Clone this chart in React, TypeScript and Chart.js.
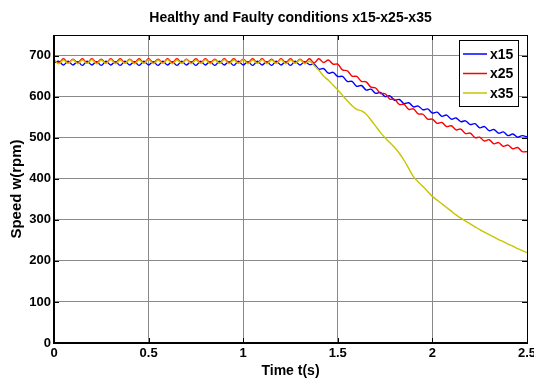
import React, { useEffect, useRef } from "react";
import { Chart, registerables } from "chart.js";

Chart.register(...registerables);

const TITLE = "Healthy and Faulty conditions x15-x25-x35";
const X_TITLE = "Time t(s)";
const Y_TITLE = "Speed w(rpm)";
const SERIES_NAMES = ["x15", "x25", "x35"];
const SERIES_COLORS = ["#0000ff", "#ff0000", "#c8c400"];
const X_TICKS = [0, 0.5, 1, 1.5, 2, 2.5];
const Y_TICKS = [0, 100, 200, 300, 400, 500, 600, 700];

const TIME = [
  0, 0.025, 0.05, 0.075, 0.1, 0.125, 0.15, 0.175, 0.2, 0.225,
  0.25, 0.275, 0.3, 0.325, 0.35, 0.375, 0.4, 0.425, 0.45, 0.475,
  0.5, 0.525, 0.55, 0.575, 0.6, 0.625, 0.65, 0.675, 0.7, 0.725,
  0.75, 0.775, 0.8, 0.825, 0.85, 0.875, 0.9, 0.925, 0.95, 0.975,
  1, 1.025, 1.05, 1.075, 1.1, 1.125, 1.15, 1.175, 1.2, 1.225,
  1.25, 1.275, 1.3, 1.325, 1.35, 1.375, 1.4, 1.425, 1.45, 1.475,
  1.5, 1.525, 1.55, 1.575, 1.6, 1.625, 1.65, 1.675, 1.7, 1.725,
  1.75, 1.775, 1.8, 1.825, 1.85, 1.875, 1.9, 1.925, 1.95, 1.975,
  2, 2.025, 2.05, 2.075, 2.1, 2.125, 2.15, 2.175, 2.2, 2.225,
  2.25, 2.275, 2.3, 2.325, 2.35, 2.375, 2.4, 2.425, 2.45, 2.475,
  2.5,
];

const X15 = [
  682, 686, 677, 686, 677, 685, 676, 686, 677, 685,
  676, 686, 677, 685, 676, 686, 677, 685, 676, 686,
  677, 685, 676, 686, 677, 685, 676, 686, 677, 685,
  676, 686, 677, 685, 676, 686, 677, 685, 676, 686,
  677, 685, 676, 686, 677, 685, 676, 686, 677, 685,
  676, 686, 677, 685, 678, 679, 667, 668, 657, 659,
  649, 649, 637, 637, 625, 627, 616, 618, 608, 610,
  600, 602, 591, 593, 583, 585, 575, 577, 568, 570,
  560, 562, 552, 555, 545, 548, 539, 541, 532, 534,
  524, 527, 517, 520, 511, 514, 505, 509, 501, 505,
  502,
];

const X25 = [
  688, 682, 692, 682, 691, 683, 692, 682, 692, 683,
  691, 682, 692, 683, 692, 682, 691, 683, 692, 682,
  692, 683, 691, 682, 692, 683, 692, 682, 691, 683,
  692, 682, 692, 683, 691, 682, 692, 683, 692, 682,
  691, 683, 692, 682, 692, 683, 691, 682, 692, 683,
  692, 682, 691, 683, 692, 682, 692, 683, 689, 679,
  679, 665, 663, 650, 649, 637, 636, 623, 621, 608,
  607, 594, 593, 581, 581, 569, 570, 558, 557, 545,
  545, 535, 537, 527, 529, 519, 521, 510, 511, 500,
  501, 492, 495, 485, 488, 479, 482, 473, 476, 466,
  466,
];

const X35 = [
  690, 680, 689, 681, 690, 680, 689, 681, 690, 680,
  689, 681, 690, 680, 689, 681, 690, 680, 689, 681,
  690, 680, 689, 681, 690, 680, 689, 681, 690, 680,
  689, 681, 690, 680, 689, 681, 690, 680, 689, 681,
  690, 680, 689, 681, 690, 680, 689, 681, 690, 680,
  689, 681, 690, 680, 686, 676, 664, 650, 640, 628,
  616, 603, 590, 578, 569, 565, 557, 543, 528, 513,
  500, 488, 476, 462, 445, 425, 405, 392, 381, 369,
  357, 348, 339, 330, 321, 312, 304, 297, 290, 283,
  276, 270, 264, 258, 252, 247, 241, 236, 230, 225,
  220,
];

const SERIES = [X15, X25, X35];

const FONT = "'Liberation Sans', Arial, Helvetica, sans-serif";

const framePlugin = {
  id: "matlabFrame",
  afterDraw(chart: any) {
    const { ctx, chartArea } = chart;
    const { left, right, top, bottom } = chartArea;
    const xs = chart.scales.x;
    const ys = chart.scales.y;
    ctx.save();
    const line = (x1: number, y1: number, x2: number, y2: number) => {
      ctx.beginPath();
      ctx.moveTo(x1, y1);
      ctx.lineTo(x2, y2);
      ctx.stroke();
    };
    ctx.strokeStyle = "#000";
    ctx.lineWidth = 1;
    X_TICKS.forEach((v) => {
      const px = Math.round(xs.getPixelForValue(v)) + 0.5;
      line(px, bottom, px, bottom - 5);
      line(px, top, px, top + 5);
    });
    Y_TICKS.forEach((v) => {
      const py = Math.round(ys.getPixelForValue(v)) + 0.5;
      line(left, py, left + 5, py);
      line(right, py, right - 5, py);
    });
    // frame
    ctx.lineWidth = 1;
    line(left, top + 0.5, right, top + 0.5);
    line(right + 0.5, top, right + 0.5, bottom);
    ctx.lineWidth = 2;
    line(left, bottom, right + 1, bottom);
    line(left, top, left, bottom + 1);

    // title
    ctx.fillStyle = "#000";
    ctx.font = `bold 14px ${FONT}`;
    ctx.textAlign = "center";
    ctx.textBaseline = "alphabetic";
    ctx.fillText(TITLE, (left + right) / 2, 22);

    // legend
    const bx = right - 68;
    const by = top + 5;
    const bw = 59;
    const bh = 66;
    ctx.fillStyle = "#fff";
    ctx.fillRect(bx, by, bw, bh);
    ctx.lineWidth = 1;
    ctx.strokeStyle = "#000";
    ctx.strokeRect(bx + 0.5, by + 0.5, bw, bh);
    ctx.textAlign = "left";
    ctx.textBaseline = "middle";
    ctx.font = `bold 14px ${FONT}`;
    SERIES_NAMES.forEach((name, i) => {
      const ly = by + 14 + i * 19.5;
      ctx.strokeStyle = SERIES_COLORS[i];
      ctx.lineWidth = 1.5;
      line(bx + 4, ly, bx + 28, ly);
      ctx.fillStyle = "#000";
      ctx.fillText(name, bx + 31, ly + 1);
    });
    ctx.restore();
  },
};

export default function App() {
  const ref = useRef<HTMLCanvasElement | null>(null);
  useEffect(() => {
    document.body.style.margin = "0";
    const canvas = ref.current;
    if (!canvas) return;
    const datasets = SERIES.map((vals, si) => ({
      label: SERIES_NAMES[si],
      data: TIME.map((t, i) => ({ x: t, y: vals[i] })),
      borderColor: SERIES_COLORS[si],
      backgroundColor: SERIES_COLORS[si],
      borderWidth: 1.4,
      pointRadius: 0,
      tension: 0.35,
      fill: false,
      order: 3 - si,
    }));
    const chart = new Chart(canvas, {
      type: "line",
      data: { datasets },
      options: {
        animation: false,
        responsive: false,
        devicePixelRatio: 1,
        layout: { padding: { top: 35, right: 7, left: 0, bottom: 0 } },
        plugins: {
          legend: { display: false },
          title: { display: false },
          tooltip: { enabled: false },
        },
        scales: {
          x: {
            type: "linear",
            min: 0,
            max: 2.5,
            afterBuildTicks: (s: any) => {
              s.ticks = X_TICKS.map((v) => ({ value: v }));
            },
            afterFit: (s: any) => {
              s.height = 37;
              s.paddingLeft = 0;
              s.paddingRight = 0;
            },
            ticks: {
              padding: 3,
              color: "#000",
              autoSkip: false,
              maxRotation: 0,
              font: { family: FONT, size: 13, weight: "bold" },
              callback: (v: any) => String(v),
            },
            grid: {
              drawTicks: false,
              lineWidth: 1,
              color: (c: any) =>
                c.tick && (c.tick.value === 0 || c.tick.value === 2.5)
                  ? "rgba(0,0,0,0)"
                  : "#8a8a8a",
            },
            border: { display: false },
            title: {
              display: true,
              text: X_TITLE,
              color: "#000",
              font: { family: FONT, size: 14, weight: "bold" },
              padding: { top: 0, bottom: 0 },
            },
          },
          y: {
            type: "linear",
            min: 0,
            max: 750,
            afterBuildTicks: (s: any) => {
              s.ticks = Y_TICKS.map((v) => ({ value: v }));
            },
            afterFit: (s: any) => {
              s.width = 54;
              s.paddingTop = 0;
              s.paddingBottom = 0;
            },
            ticks: {
              padding: 3,
              color: "#000",
              autoSkip: false,
              font: { family: FONT, size: 13, weight: "bold" },
              callback: (v: any) => String(v),
            },
            grid: {
              drawTicks: false,
              lineWidth: 1,
              color: (c: any) =>
                c.tick && c.tick.value === 0 ? "rgba(0,0,0,0)" : "#8a8a8a",
            },
            border: { display: false },
            title: {
              display: true,
              text: Y_TITLE,
              color: "#000",
              font: { family: FONT, size: 15, weight: "bold" },
              padding: { top: 8, bottom: 0 },
            },
          },
        },
      },
      plugins: [framePlugin],
    } as any);
    return () => chart.destroy();
  }, []);
  return (
    <div style={{ width: 534, height: 380, background: "#fff" }}>
      <canvas ref={ref} width={534} height={380} style={{ display: "block" }} />
    </div>
  );
}
